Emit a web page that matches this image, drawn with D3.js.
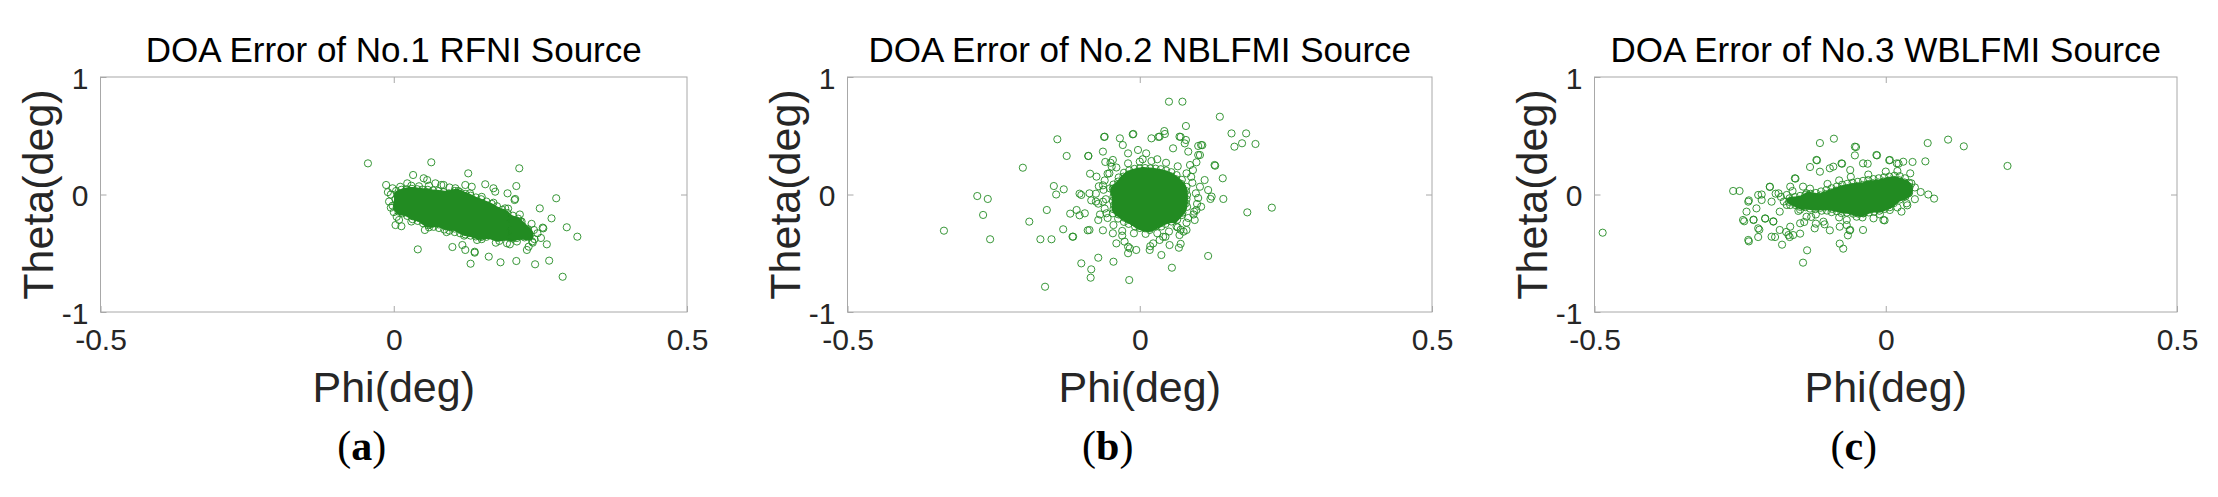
<!DOCTYPE html>
<html>
<head>
<meta charset="utf-8">
<script src="https://cdn.jsdelivr.net/npm/d3@7"></script>
<style>
  body { margin: 0; background: #fff; }
  text { font-family: "Liberation Sans", Arial, sans-serif; }
  .axis path.domain { display: none; }
  .axis line { stroke: #a8a8a8; }
  .axis text { font-size: 30px; fill: #262626; font-family: "Liberation Sans", Arial, sans-serif; }
</style>
</head>
<body>
<div class="figure"></div>
<script>
// DOA errors, [phi, theta] in millidegrees
const pointsA = [
  // outliers
  [-44,265],[64,274],[127,180],[214,223],[209,72],[277,-32],[249,-118],[269,-203],[295,-279],[313,-359],
  [255,-288],[261,-424],[288,-700],[265,-563],[241,-594],[209,-566],[182,-577],[162,-529],[131,-589],[138,-495],
  [41,-467],[230,-444],[237,-410],[198,-424],[100,-447],[122,-472],[174,-410],[251,-370],[218,-230],[190,-118],
  [206,-47],[194,10],[170,53],[156,87],[133,66],[122,81],[105,53],[81,81],[33,166],[51,138],
  [-13,81],[-2,53],[-5,-112],[9,-217],[3,-260],[13,-270],[53,-302],
  // halo
  [117,-430],[142,-387],[176,-359],[193,-415],[227,-472],[239,-302],[173,24],[57,123],[71,95],[85,81],
  [11,66],[23,95],[216,-231],[227,-302],[219,-345],[202,-302],[165,-330],[236,-400],[207,-38],[254,-282],
  [138,-487],[-5,0],[-8,-60],[0,-150],[30,-230],[60,-280],[90,-320],[120,-350],[150,-380],[180,-395],
  [210,-400],[240,-380],[245,-330],[235,-250],[215,-170],[195,-120],[170,-70],[150,-20],[130,10],[110,30],
  [95,60],[60,75],[30,75],[43,70],[-10,20],[-2,-95],[5,-190],
  // dense core
  [4,30],[6,-5],[3,-40],[7,-75],[5,-110],[8,-145],
  [13,40],[15,8],[12,-27],[16,-60],[14,-95],[13,-128],[15,-160],
  [22,45],[24,12],[23,-20],[21,-55],[25,-88],[22,-122],[24,-155],[23,-182],
  [31,48],[33,15],[32,-18],[30,-50],[34,-84],[31,-118],[33,-150],[32,-185],[32,-210],
  [40,45],[42,12],[41,-22],[43,-55],[39,-90],[42,-125],[40,-160],[41,-195],[41,-225],
  [49,42],[51,8],[50,-25],[52,-60],[48,-95],[51,-130],[49,-165],[50,-200],[52,-225],[50,-245],
  [58,40],[60,5],[59,-30],[61,-62],[57,-98],[60,-132],[58,-168],[61,-205],[59,-235],[59,-262],
  [67,35],[69,0],[68,-35],[70,-70],[66,-105],[69,-140],[67,-175],[70,-210],[68,-245],[68,-275],
  [76,30],[78,-5],[77,-40],[79,-75],[75,-110],[78,-145],[76,-180],[79,-215],[77,-255],[77,-285],
  [85,20],[87,-15],[86,-50],[88,-85],[84,-120],[87,-155],[85,-190],[88,-225],[86,-265],[86,-298],
  [94,10],[96,-25],[95,-60],[97,-95],[93,-130],[96,-165],[94,-200],[97,-240],[95,-275],[95,-308],
  [104,30],[103,0],[105,-35],[104,-70],[106,-105],[102,-140],[105,-175],[103,-210],[106,-250],[104,-290],[104,-320],
  [113,20],[112,-10],[114,-45],[113,-80],[115,-115],[111,-150],[114,-185],[112,-220],[115,-260],[113,-300],[113,-330],
  [122,5],[121,-25],[123,-60],[122,-95],[124,-130],[120,-165],[123,-200],[121,-240],[124,-280],[122,-315],[122,-340],
  [131,-10],[130,-40],[132,-75],[131,-110],[133,-145],[129,-180],[132,-215],[130,-255],[133,-295],[131,-325],[131,-350],
  [140,-25],[139,-55],[141,-90],[140,-125],[142,-160],[138,-195],[141,-230],[139,-270],[142,-305],[140,-335],[140,-357],
  [149,-40],[148,-70],[150,-105],[149,-140],[151,-175],[147,-210],[150,-250],[148,-285],[151,-320],[149,-345],[149,-362],
  [158,-60],[157,-90],[159,-125],[158,-160],[160,-195],[156,-230],[159,-265],[157,-300],[160,-335],[158,-360],
  [167,-80],[166,-110],[168,-145],[167,-180],[169,-215],[165,-250],[168,-285],[166,-320],[169,-350],
  [176,-100],[175,-135],[177,-170],[176,-205],[178,-240],[174,-275],[177,-310],[175,-345],[176,-368],
  [185,-130],[184,-160],[186,-195],[185,-230],[187,-265],[183,-300],[186,-335],[184,-362],
  [194,-158],[193,-190],[195,-225],[194,-260],[196,-295],[192,-330],[195,-360],
  [203,-180],[202,-215],[204,-250],[203,-285],[205,-320],[201,-355],[203,-375],
  [212,-205],[211,-240],[213,-275],[212,-310],[214,-345],[210,-370],
  [220,-270],[222,-305],[221,-340],[223,-365],
  [229,-295],[231,-330],[230,-360]
];

const pointsB = [
  // outliers
  [50,790],[73,790],[137,662],[79,583],[42,540],[157,520],[182,520],[175,436],[198,430],[162,407],
  [-12,512],[-61,490],[-141,470],[-125,328],[-88,328],[-200,228],[-147,72],[-130,44],[-143,0],[-278,-13],
  [-260,-38],[-268,-174],[-335,-308],[-256,-381],[-189,-231],[-159,-132],[-170,-381],[-151,-381],[-131,-296],[-115,-359],
  [-100,-586],[-83,-637],[-84,-708],[-162,-785],[-71,-538],[-45,-572],[-18,-728],[-20,-500],[55,-623],[117,-523],
  [37,-515],[67,-453],[184,-152],[226,-112],[143,-38],[142,138],[129,245],[100,413],[107,420],[79,464],
  [32,490],[70,490],[103,336],[97,274],[93,-146],[83,-200],[121,-38],[75,-316],[70,-420],[44,-360],[18,-440],
  [-119,-163],[-103,-177],[-83,-50],[-71,-78],[-89,-305],[-63,-305],[-103,7],[-75,7],[-63,78],[-55,177],
  [-59,277],[-85,177],
  // halo
  [-60,492],[-34,478],[-11,515],[20,478],[34,492],[43,515],[68,492],[77,435],[105,421],[128,251],
  [83,365],[100,336],[-88,328],[-63,365],[-29,421],[-20,350],[-74,152],[-48,237],[-86,10],[-100,-4],
  [-108,-132],[-94,-160],[-114,-359],[-86,-302],[-71,-217],[-57,-160],[-46,-330],[-26,-401],[-20,-444],[17,-472],
  [34,-387],[51,-430],[68,-345],[80,-302],[94,-217],[105,-104],[97,-132],[123,-18],[103,66],[91,208],
  [111,123],[117,38],[-51,52],[-63,-61],[-46,294],[-3,379],[11,350],[57,393],[86,251],[-40,-416],
  [-17,-458],[-6,-472],[23,-416],[63,-274],[17,-302],
  [-60,120],[-62,40],[-58,-40],[-60,-120],[-55,-200],[-45,-260],[-30,-310],[-10,-330],[10,-335],[30,-330],
  [50,-315],[65,-280],[80,-240],[92,-170],[98,-80],[96,10],[90,100],[80,180],[65,240],[45,270],
  [20,285],[0,280],[-20,265],[-40,230],[-52,180],[-70,70],[-75,-60],[-68,-170],[-50,270],[70,-300],
  [100,-30],[88,150],[-30,-350],[40,-360],[5,300],[30,300],
  // dense core
  [-45,85],[-46,50],[-44,15],[-45,-20],[-46,-55],[-44,-90],[-45,-125],[-46,-160],
  [-36,145],[-37,110],[-35,75],[-36,40],[-37,5],[-35,-30],[-36,-65],[-37,-100],[-35,-135],[-36,-170],[-37,-205],
  [-27,185],[-28,152],[-26,117],[-27,82],[-28,47],[-26,12],[-27,-23],[-28,-58],[-26,-93],[-27,-128],[-28,-163],[-26,-198],[-27,-233],
  [-18,205],[-19,170],[-17,135],[-18,100],[-19,65],[-17,30],[-18,-5],[-19,-40],[-17,-75],[-18,-110],[-19,-145],[-17,-180],[-18,-215],[-19,-250],
  [-9,218],[-10,183],[-8,148],[-9,113],[-10,78],[-8,43],[-9,8],[-10,-27],[-8,-62],[-9,-97],[-10,-132],[-8,-167],[-9,-202],[-10,-237],[-8,-272],
  [0,222],[-1,187],[1,152],[0,117],[-1,82],[1,47],[0,12],[-1,-23],[1,-58],[0,-93],[-1,-128],[1,-163],[0,-198],[-1,-233],[1,-268],[0,-285],
  [9,225],[8,190],[10,155],[9,120],[8,85],[10,50],[9,15],[8,-20],[10,-55],[9,-90],[8,-125],[10,-160],[9,-195],[8,-230],[10,-265],[9,-288],
  [18,222],[17,187],[19,152],[18,117],[17,82],[19,47],[18,12],[17,-23],[19,-58],[18,-93],[17,-128],[19,-163],[18,-198],[17,-233],[19,-268],[18,-286],
  [27,220],[26,185],[28,150],[27,115],[26,80],[28,45],[27,10],[26,-25],[28,-60],[27,-95],[26,-130],[28,-165],[27,-200],[26,-235],[28,-270],
  [36,215],[35,180],[37,145],[36,110],[35,75],[37,40],[36,5],[35,-30],[37,-65],[36,-100],[35,-135],[37,-170],[36,-205],[35,-240],[37,-272],
  [45,205],[44,170],[46,135],[45,100],[44,65],[46,30],[45,-5],[44,-40],[46,-75],[45,-110],[44,-145],[46,-180],[45,-215],[44,-250],
  [54,190],[53,155],[55,120],[54,85],[53,50],[55,15],[54,-20],[53,-55],[55,-90],[54,-125],[53,-160],[55,-195],[54,-230],
  [63,165],[62,130],[64,95],[63,60],[62,25],[64,-10],[63,-45],[62,-80],[64,-115],[63,-150],[62,-185],[64,-215],
  [72,125],[71,90],[73,55],[72,20],[71,-15],[73,-50],[72,-85],[71,-120],[73,-155],[72,-175],
  [80,65],[79,30],[81,-5],[80,-40],[79,-75],[81,-105]
];

const pointsC = [
  // outliers
  [-486,-325],[-262,30],[-251,30],[-235,-50],[-243,-228],[-235,-399],[-219,-362],[-217,-300],[-227,-214],[-207,-206],
  [-193,-228],[-213,0],[-199,64],[-189,7],[-178,-427],[-190,-362],[-171,-319],[-165,-362],[-147,-333],[-155,135],
  [-130,234],[-118,291],[-113,438],[-89,475],[-51,404],[-53,333],[-15,333],[-75,262],[-31,262],[6,291],
  [22,262],[46,277],[68,282],[72,438],[107,467],[134,410],[209,243],[60,21],[73,0],[83,-35],
  [37,-92],[-2,-220],[-73,-461],[-79,-418],[-135,-475],[-142,-580],[-62,-305],[-65,-348],[-96,-305],[-105,-254],
  [-120,-248],[-140,-234],[-128,-191],[-147,-129],
  // halo
  [-236,-61],[-219,-4],[-213,-47],[-239,-146],[-245,-217],[-227,-217],[-222,-118],[-199,67],[-196,-61],[-184,10],
  [-207,-203],[-193,-231],[-219,-288],[-236,-387],[-196,-359],[-182,-302],[-167,-345],[-156,138],[-119,294],[-113,194],
  [-96,223],[-76,265],[-61,208],[-53,407],[-39,265],[-16,336],[7,294],[19,265],[30,279],[42,180],
  [44,95],[39,10],[36,-75],[27,-146],[-4,-217],[-39,-302],[-61,-302],[-79,-274],[-67,-260],[-107,-231],
  [-122,-288],[-136,-189],[-147,-245],[-164,-274],[-159,-345],[-182,-146],[-170,-89],[-164,67],[-170,-4],[-142,67],
  [-136,10],[-90,237],[-67,-217],[-50,-189],[-21,-203],[-39,-160],[7,-132],
  [-100,90],[-80,120],[-60,150],[-30,170],[0,195],[20,200],[50,60],[50,-40],[20,-110],[-10,-170],
  [-40,-195],[-80,-195],[-120,-170],[-150,-140],[-175,-60],[-180,-20],[-160,30],[-130,50],
  // dense core
  [-165,-32],[-166,-62],[-164,-90],
  [-156,-22],[-157,-55],[-155,-90],
  [-147,-12],[-148,-45],[-146,-78],[-147,-105],
  [-138,-4],[-139,-38],[-137,-72],[-138,-108],
  [-129,6],[-130,-28],[-128,-62],[-129,-96],[-130,-120],
  [-120,13],[-121,-20],[-119,-55],[-120,-90],[-121,-125],
  [-111,26],[-112,-8],[-110,-43],[-111,-78],[-112,-113],[-110,-138],
  [-102,38],[-103,3],[-101,-32],[-102,-67],[-103,-102],[-101,-137],
  [-93,53],[-94,18],[-92,-17],[-93,-52],[-94,-87],[-92,-122],[-93,-150],
  [-84,68],[-85,33],[-83,-2],[-84,-37],[-85,-72],[-83,-107],[-84,-142],
  [-75,83],[-76,48],[-74,13],[-75,-22],[-76,-57],[-74,-92],[-75,-127],[-76,-158],
  [-66,91],[-67,56],[-65,21],[-66,-14],[-67,-49],[-65,-84],[-66,-119],[-67,-154],
  [-57,100],[-58,65],[-56,30],[-57,-5],[-58,-40],[-56,-75],[-57,-110],[-58,-145],[-56,-163],
  [-48,108],[-49,73],[-47,38],[-48,3],[-49,-32],[-47,-67],[-48,-102],[-49,-137],[-47,-163],
  [-39,116],[-40,81],[-38,46],[-39,11],[-40,-24],[-38,-59],[-39,-94],[-40,-129],[-38,-160],
  [-30,123],[-31,88],[-29,53],[-30,18],[-31,-17],[-29,-52],[-30,-87],[-31,-122],[-29,-153],
  [-21,131],[-22,96],[-20,61],[-21,26],[-22,-9],[-20,-44],[-21,-79],[-22,-114],[-20,-146],
  [-12,138],[-13,103],[-11,68],[-12,33],[-13,-2],[-11,-37],[-12,-72],[-13,-107],[-11,-138],
  [-3,146],[-4,111],[-2,76],[-3,41],[-4,6],[-2,-29],[-3,-64],[-4,-99],[-2,-123],
  [6,153],[5,118],[7,83],[6,48],[5,13],[7,-22],[6,-57],[5,-92],[7,-108],
  [15,160],[14,125],[16,90],[15,55],[14,20],[16,-15],[15,-50],[14,-73],
  [24,156],[23,121],[25,86],[24,51],[23,16],[25,-19],[24,-43],
  [33,138],[32,103],[34,68],[33,33],[32,-2],[34,-15],
  [40,100],[41,65],[39,30],[40,15]
];

const titles = ['DOA Error of No.1 RFNI Source', 'DOA Error of No.2 NBLFMI Source', 'DOA Error of No.3 WBLFMI Source'];
const subLabels = ['a', 'b', 'c'];
const xTicks = [-0.5, 0, 0.5];
const xTickLabels = ['-0.5', '0', '0.5'];
const yTicks = [-1, 0, 1];
const yTickLabels = ['-1', '0', '1'];
const xLabel = 'Phi(deg)';
const yLabel = 'Theta(deg)';

(() => {
var width = 2218,
    height = 497,
    plotTop = 77,
    plotBottom = 312,
    green = '#228b22';

var panels = [
    {left: 100.5, right: 687, data: pointsA},
    {left: 847.5, right: 1432, data: pointsB},
    {left: 1594.5, right: 2177, data: pointsC}
];

var svg = d3.select('div.figure')
    .append('svg')
        .attr('width', width)
        .attr('height', height)
        .style('display', 'block');

panels.forEach((p, i) => {
    var w = p.right - p.left,
        h = plotBottom - plotTop,
        cx = p.left + w / 2;

    var x = d3.scaleLinear().domain([-0.5, 0.5]).range([0, w]);
    var y = d3.scaleLinear().domain([-1, 1]).range([h, 0]);
    var data = p.data.map((d) => [d[0] / 1000, d[1] / 1000]);

    var g = svg.append('g')
        .attr('transform', 'translate(' + p.left + ',' + plotTop + ')');

    // axes box, ticks point inward like MATLAB
    g.append('rect')
        .attr('width', w)
        .attr('height', h)
        .attr('fill', 'none')
        .attr('stroke', '#a8a8a8')
        .attr('stroke-width', 1);

    g.append('g')
        .attr('class', 'axis')
        .attr('transform', 'translate(0,' + h + ')')
        .call(d3.axisBottom(x).tickValues(xTicks).tickSizeInner(-6).tickSizeOuter(0)
            .tickPadding(17).tickFormat((d, j) => xTickLabels[j]));
    g.append('g')
        .attr('class', 'axis')
        .call(d3.axisTop(x).tickValues([0]).tickSizeInner(-6).tickSizeOuter(0).tickFormat(''));
    g.append('g')
        .attr('class', 'axis')
        .call(d3.axisLeft(y).tickValues(yTicks).tickSizeInner(-6).tickSizeOuter(0)
            .tickPadding(12).tickFormat((d, j) => yTickLabels[j]))
        .selectAll('text').attr('dy', '0.37em');
    g.append('g')
        .attr('class', 'axis')
        .attr('transform', 'translate(' + w + ',0)')
        .call(d3.axisRight(y).tickValues([0]).tickSizeInner(-6).tickSizeOuter(0).tickFormat(''));

    // the pile-up of markers in the middle reads as solid green
    var dens = d3.contourDensity()
        .x((d) => x(d[0]))
        .y((d) => y(d[1]))
        .size([w, h])
        .cellSize(2)
        .bandwidth(4)
        .thresholds(30)(data);
    var maxV = d3.max(dens, (c) => c.value);
    var core = dens.filter((c) => c.value >= 0.62 * maxV).slice(0, 1);
    g.append('g')
        .selectAll('path')
        .data(core)
        .join('path')
            .attr('d', d3.geoPath())
            .attr('fill', green);

    g.append('g')
        .selectAll('circle')
        .data(data)
        .join('circle')
            .attr('cx', (d) => x(d[0]))
            .attr('cy', (d) => y(d[1]))
            .attr('r', 3.6)
            .attr('fill', 'none')
            .attr('stroke', green)
            .attr('stroke-width', 0.9);

    svg.append('text')
        .attr('x', cx)
        .attr('y', 62)
        .attr('text-anchor', 'middle')
        .style('font-size', '35px')
        .style('fill', '#000')
        .text(titles[i]);

    svg.append('text')
        .attr('x', cx)
        .attr('y', 402)
        .attr('text-anchor', 'middle')
        .style('font-size', '43px')
        .style('fill', '#262626')
        .text(xLabel);

    svg.append('text')
        .attr('transform', 'translate(' + (p.left - 48) + ',' + (plotTop + h / 2) + ') rotate(-90)')
        .attr('text-anchor', 'middle')
        .style('font-size', '43px')
        .style('fill', '#262626')
        .text(yLabel);

    var sub = svg.append('text')
        .attr('x', cx - 32)
        .attr('y', 460)
        .attr('text-anchor', 'middle')
        .style('font-family', '"Liberation Serif", "Times New Roman", serif')
        .style('font-size', '42px')
        .style('fill', '#000');
    sub.append('tspan').text('(');
    sub.append('tspan').style('font-weight', 'bold').text(subLabels[i]);
    sub.append('tspan').text(')');
});
})();
</script>
</body>
</html>
